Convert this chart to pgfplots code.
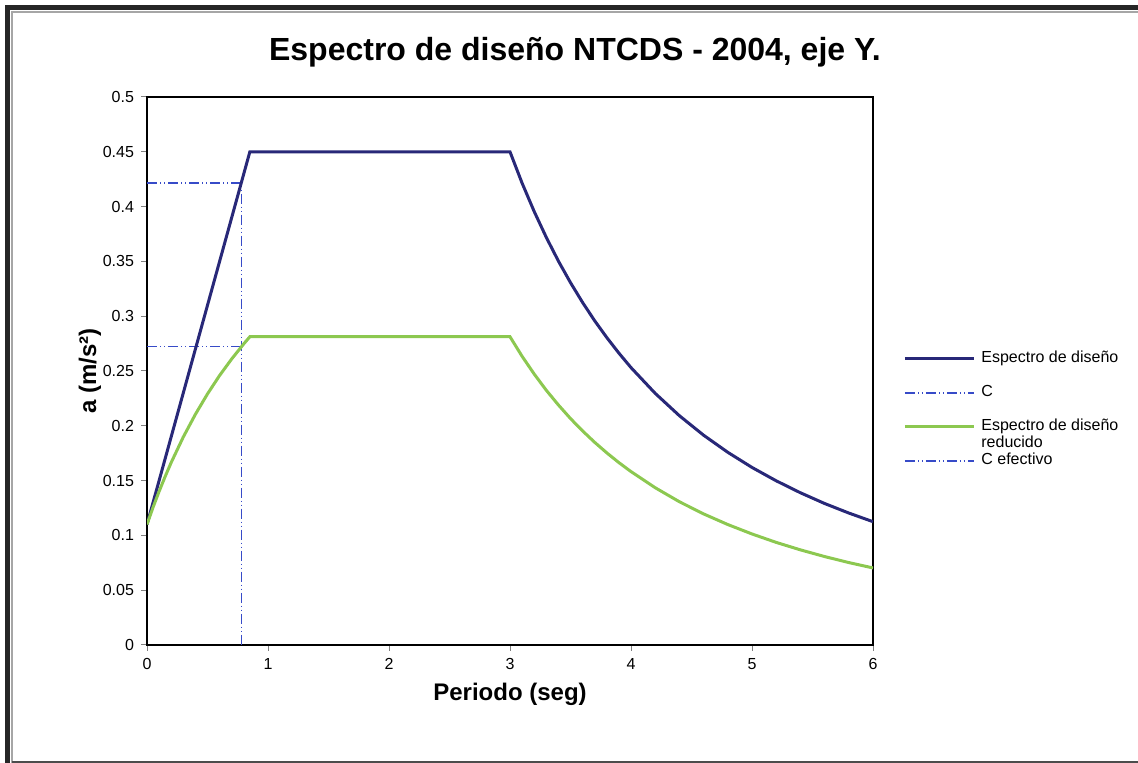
\documentclass[border=0pt]{standalone}
\usepackage{pgfplots}
\pgfplotsset{compat=1.18}
\usetikzlibrary{calc}
\usepackage{fontspec}
\setmainfont{Liberation Sans}

\definecolor{navy}{RGB}{40,40,120}
\definecolor{verde}{RGB}{140,200,80}
\definecolor{azulc}{RGB}{55,75,200}

\tikzset{ddot/.style={dash pattern=on 5pt off 1.5pt on 0.5pt off 1.5pt on 0.5pt off 1.5pt}}

\begin{document}
\begin{tikzpicture}
\begin{axis}[
 name=ax,
 scale only axis,
 width=363pt, height=274pt,
 xmin=0, xmax=6, ymin=0, ymax=0.5,
 xtick={0,1,2,3,4,5,6},
 ytick={0,0.05,0.1,0.15,0.2,0.25,0.3,0.35,0.4,0.45,0.5},
 yticklabels={0,0.05,0.1,0.15,0.2,0.25,0.3,0.35,0.4,0.45,0.5},
 xticklabels={0,1,2,3,4,5,6},
 tick align=outside,
 xtick pos=bottom, ytick pos=left,
 major tick length=3pt,
 tick style={gray, line width=0.5pt},
 axis line style={black, line width=1.2pt},
 ticklabel style={font=\fontsize{8}{9}\selectfont},
 every axis title shift=0pt,
 title={Espectro de diseño NTCDS - 2004, eje Y.},
 title style={font=\fontsize{16}{18}\selectfont\bfseries, at={(axis description cs:0.5895,1.081)}, anchor=center},
 xlabel={Periodo (seg)},
 ylabel={a (m/s²)},
 xlabel style={font=\fontsize{12}{14}\selectfont\bfseries, at={(axis description cs:0.5,-0.0894)}, anchor=center},
 ylabel style={font=\fontsize{12}{14}\selectfont\bfseries, at={(axis description cs:-0.0785,0.5)}, anchor=center},
 legend cell align=left,
 legend image code/.code={\draw[#1] (0pt,0pt) -- (34.5pt,0pt);},
 legend style={draw=none, fill=none, at={(1.0413,0.5383)}, anchor=north west,
   inner sep=0pt, row sep=0pt, column sep=3pt,
   font=\fontsize{8}{9}\selectfont,
   nodes={inner sep=0pt, text height=6pt, text depth=2.5pt}},
]
% C
\addplot[azulc, line width=0.6pt, ddot, forget plot] coordinates {(0,0.4215) (0.78,0.4215) (0.78,0)};
% C efectivo
\addplot[azulc, line width=0.6pt, ddot, forget plot] coordinates {(0,0.2725) (0.78,0.2725)};
% Espectro de diseno
\addplot[navy, line width=1.5pt, forget plot] coordinates {
 (0,0.11) (0.85,0.45) (3.0,0.45) (3.1,0.4214) (3.2,0.3955) (3.3,0.3719) (3.4,0.3503)
 (3.5,0.3306) (3.6,0.3125) (3.7,0.2958) (3.8,0.2805) (3.9,0.2663) (4.0,0.2531)
 (4.2,0.2296) (4.4,0.2092) (4.6,0.1914) (4.8,0.1758)
 (5.0,0.1620) (5.2,0.1498) (5.4,0.1389) (5.6,0.1291) (5.8,0.1204) (6.0,0.1125)};
% Espectro de diseno reducido
\addplot[verde, line width=1.5pt, forget plot] coordinates {
 (0,0.11) (0.05,0.1256) (0.1,0.1401) (0.15,0.1537) (0.2,0.1665) (0.3,0.1898) (0.4,0.2105) (0.5,0.2291)
 (0.6,0.2459) (0.7,0.2610) (0.8,0.2748) (0.85,0.28125) (3.0,0.28125)
 (3.1,0.2634) (3.2,0.2472) (3.3,0.2324) (3.4,0.2190) (3.5,0.2066) (3.6,0.1953)
 (3.7,0.1849) (3.8,0.1753) (3.9,0.1664) (4.0,0.1582)
 (4.2,0.1435) (4.4,0.1307) (4.6,0.1196) (4.8,0.1099) (5.0,0.1013) (5.2,0.0936)
 (5.4,0.0868) (5.6,0.0807) (5.8,0.0752) (6.0,0.0703)};

\addlegendimage{navy, line width=1.5pt}
\addlegendentry{Espectro de diseño}
\addlegendimage{empty legend}
\addlegendentry{\mbox{}}
\addlegendimage{azulc, line width=0.6pt, ddot}
\addlegendentry{C}
\addlegendimage{empty legend}
\addlegendentry{\mbox{}}
\addlegendimage{verde, line width=1.5pt}
\addlegendentry{Espectro de diseño}
\addlegendimage{empty legend}
\addlegendentry{reducido}
\addlegendimage{azulc, line width=0.6pt, ddot}
\addlegendentry{C efectivo}
\end{axis}
% chart frame
\begin{scope}[shift={(ax.south west)}]
\draw[line width=2.5pt, black!85] (-69.75pt,-59pt) -- (-69.75pt,318.75pt) -- (495.5pt,318.75pt);
\draw[line width=0.6pt, gray!70] (-67.5pt,-59pt) -- (-67.5pt,316.5pt) -- (495.5pt,316.5pt);
\draw[line width=1pt, black!70] (-67.5pt,-58.5pt) -- (495.5pt,-58.5pt);
\end{scope}
\pgfresetboundingbox
\path[use as bounding box] ($(ax.south west)+(-73.5pt,-59pt)$) rectangle ($(ax.south west)+(495.5pt,322.5pt)$);
\end{tikzpicture}
\end{document}
